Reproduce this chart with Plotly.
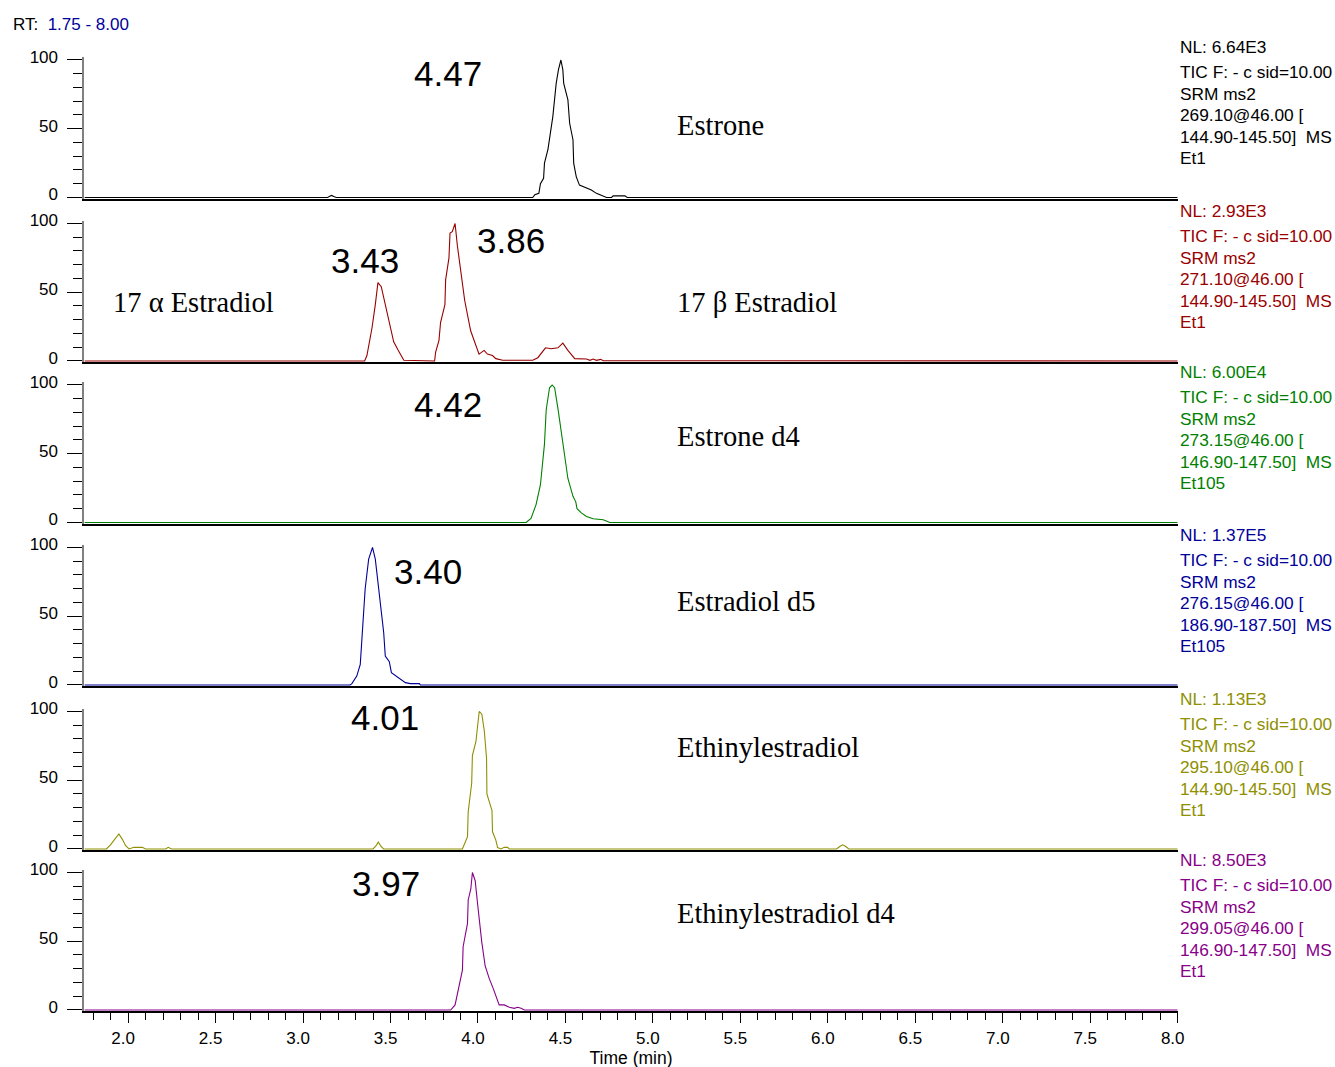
import plotly.graph_objects as go

# ---------------- data ----------------
estrone_t = [1.75, 3.14, 3.155, 3.164, 3.175, 3.19, 4.313, 4.325, 4.348, 4.357, 4.375, 4.38, 4.40, 4.428,
             4.447, 4.46, 4.474, 4.485, 4.49, 4.514, 4.524, 4.543, 4.547, 4.562, 4.58, 4.61, 4.648, 4.677,
             4.716, 4.735, 4.763, 4.773, 4.84, 4.853, 8.0]
estrone_i = [0, 0, 1.0, 1.5, 0.8, 0, 0, 2, 3, 10, 14, 25, 35, 59,
             83, 93, 100, 93, 83, 71, 54, 42, 25, 15, 9, 7.5, 5.5, 3,
             0.7, 0, 0, 1.2, 1.2, 0, 0]

estradiol_t = [1.75, 3.352, 3.365, 3.394, 3.413, 3.428, 3.447, 3.47, 3.493, 3.518, 3.543, 3.576,
               3.752, 3.758, 3.777, 3.786, 3.811, 3.815, 3.834, 3.84, 3.853, 3.869, 3.882, 3.901, 3.924,
               3.958, 3.984, 4.006, 4.035, 4.054, 4.083, 4.102, 4.141, 4.313, 4.342, 4.386, 4.418, 4.457,
               4.485, 4.514, 4.553, 4.62, 4.64, 4.658, 4.677, 4.702, 4.716, 8.0]
estradiol_i = [0, 0, 4, 24, 41, 57, 54, 41, 27, 14, 8, 0.5,
               0, 6.5, 15, 28, 41, 59, 75, 93, 94, 100, 84, 65, 44,
               22, 12.5, 5, 7.7, 5, 4, 1.7, 0.5, 0.5, 2.4, 9.6, 8.9, 9.6,
               13, 7.7, 1.7, 1.4, 0.5, 1.4, 0.5, 1.2, 0.2, 0]

estrone_d4_t = [1.75, 4.275, 4.303, 4.332, 4.357, 4.38, 4.39, 4.409, 4.424, 4.438, 4.457, 4.485, 4.514,
                4.543, 4.559, 4.566, 4.591, 4.62, 4.658, 4.716, 4.754, 8.0]
estrone_d4_i = [0, 0, 3, 13, 27.5, 57, 82, 98, 100, 98, 83, 57, 32,
                19, 15, 10, 7, 4.4, 2.7, 2, 0, 0]

estradiol_d5_t = [1.75, 3.269, 3.279, 3.307, 3.327, 3.336, 3.355, 3.375, 3.397, 3.413, 3.432, 3.461, 3.47,
                  3.493, 3.505, 3.527, 3.566, 3.585, 3.614, 3.665, 3.671, 8.0]
estradiol_d5_i = [0, 0, 1, 6.5, 15, 33, 70, 91.5, 100, 91.5, 70, 38, 21,
                  17, 9, 7, 4, 1.7, 1, 1, 0, 0]

ethinyl_t = [1.75, 1.876, 1.899, 1.928, 1.947, 1.967, 1.986, 2.005, 2.033, 2.081, 2.1, 2.215, 2.229, 2.248,
             3.40, 3.415, 3.43, 3.445, 3.46, 3.911, 3.94, 3.944, 3.964, 3.968, 3.988, 4.007, 4.022, 4.036,
             4.049, 4.051, 4.08, 4.083, 4.102, 4.112, 4.131, 4.15, 4.169, 4.179, 6.05, 6.07, 6.085, 6.10,
             6.12, 8.0]
ethinyl_i = [0, 0, 3, 8, 11, 7, 2.4, 0, 1.2, 1.2, 0, 0, 1.2, 0,
             0, 2, 5, 2, 0, 0, 9, 27, 48, 68, 78, 100, 98, 86,
             66, 40, 28, 12.5, 6.5, 1, 0, 1.2, 1.2, 0, 0, 2, 3, 2,
             0, 0]

ethinyl_d4_t = [1.75, 3.844, 3.869, 3.892, 3.911, 3.915, 3.94, 3.944, 3.959, 3.968, 3.984, 3.997, 4.022,
                4.041, 4.064, 4.089, 4.102, 4.121, 4.15, 4.179, 4.207, 4.227, 4.246, 4.265, 8.0]
ethinyl_d4_i = [0, 0, 3.7, 17, 29, 46, 63, 80, 88, 100, 94, 78, 49,
                32, 23, 15, 10, 3.7, 3.7, 2, 1.2, 2, 1.2, 0, 0]

series_t = [estrone_t, estradiol_t, estrone_d4_t, estradiol_d5_t, ethinyl_t, ethinyl_d4_t]
series_i = [estrone_i, estradiol_i, estrone_d4_i, estradiol_d5_i, ethinyl_i, ethinyl_d4_i]
colors = ["#000000", "#990000", "#008000", "#000099", "#8f8f00", "#880088"]

compound_names = [["Estrone"], ["17 \u03b1 Estradiol", "17 \u03b2 Estradiol"], ["Estrone d4"],
                  ["Estradiol d5"], ["Ethinylestradiol"], ["Ethinylestradiol d4"]]
peak_labels = [["4.47"], ["3.43", "3.86"], ["4.42"], ["3.40"], ["4.01"], ["3.97"]]

info_text = [
    ["NL: 6.64E3", "TIC F: - c sid=10.00", "SRM ms2", "269.10@46.00 [", "144.90-145.50] \u00a0MS", "Et1"],
    ["NL: 2.93E3", "TIC F: - c sid=10.00", "SRM ms2", "271.10@46.00 [", "144.90-145.50] \u00a0MS", "Et1"],
    ["NL: 6.00E4", "TIC F: - c sid=10.00", "SRM ms2", "273.15@46.00 [", "146.90-147.50] \u00a0MS", "Et105"],
    ["NL: 1.37E5", "TIC F: - c sid=10.00", "SRM ms2", "276.15@46.00 [", "186.90-187.50] \u00a0MS", "Et105"],
    ["NL: 1.13E3", "TIC F: - c sid=10.00", "SRM ms2", "295.10@46.00 [", "144.90-145.50] \u00a0MS", "Et1"],
    ["NL: 8.50E3", "TIC F: - c sid=10.00", "SRM ms2", "299.05@46.00 [", "146.90-147.50] \u00a0MS", "Et1"],
]

x_range = [1.75, 8.0]
y_ticks = [0, 50, 100]

# ---------------- layout geometry ----------------
# target positions measured on the picture, converted to layout pixels
AX, BX = 0.99, 0.0
AY, BY = 0.987, 5.5
W, H = 1349, 1076


def LX(t):
    return (t - BX) / AX


def LY(t):
    return (t - BY) / AY


X0_PX, X1_PX = 84, 1172
zero_px = [194, 357.5, 519, 681.5, 845.5, 1006.5]
SPAN = 137.5

peak_pos = [[(446, 70)], [(363, 257), (509, 237)], [(446, 401)], [(426, 568)], [(383, 714)], [(384, 880)]]
name_pos = [[(672, 122)], [(110, 299), (672, 299)], [(672, 433)], [(672, 598)], [(672, 744)], [(672, 910)]]
nl_y = [44, 208, 369, 532, 696, 857]
line_offsets = [0, 25, 46.5, 67.5, 89.5, 110.5]

SANS = "Liberation Sans, Arial, sans-serif"
SERIF = "Liberation Serif, Times New Roman, serif"


def px(t):
    return LX(t) / W


def py(t):
    return 1 - LY(t) / H


fig = go.Figure()
layout = dict(width=W, height=H, autosize=False, margin=dict(l=0, r=0, t=0, b=0, pad=0),
              paper_bgcolor="white", plot_bgcolor="white", showlegend=False)
annotations = []
ppu = SPAN / 100.0

for k in range(6):
    n = "" if k == 0 else str(k + 1)
    fig.add_trace(go.Scatter(x=series_t[k], y=series_i[k], mode="lines",
                             line=dict(color=colors[k], width=1.1),
                             xaxis="x" + n, yaxis="y" + n, hoverinfo="skip"))
    bottom = zero_px[k] + 1.5
    top = zero_px[k] - SPAN - 2.75
    layout["yaxis" + n] = dict(
        domain=[py(bottom), py(top)], range=[-1.5 / ppu, 102], anchor="x" + n,
        tickmode="array", tickvals=y_ticks, ticks="outside", ticklen=15, tickwidth=1.2,
        tickcolor="black", ticklabelstandoff=6, ticklabelshift=-3,
        minor=dict(tick0=0, dtick=10, ticks="outside", ticklen=9, tickwidth=1.2, tickcolor="black",
                   showgrid=False),
        showline=True, linecolor="#808080", linewidth=2, showgrid=False, zeroline=False,
        tickfont=dict(family=SANS, size=17, color="black"), fixedrange=True)
    xa = dict(domain=[px(X0_PX), px(X1_PX)], range=x_range, anchor="y" + n,
              showline=True, linecolor="black", linewidth=1.5, showgrid=False, zeroline=False,
              fixedrange=True)
    if k < 5:
        xa.update(ticks="", showticklabels=False, matches="x6")
    else:
        xa.update(tickmode="linear", tick0=0, dtick=0.5, tickformat=".1f", ticks="outside",
                  ticklen=10, tickwidth=1.2, tickcolor="black", ticklabelshift=-5,
                  minor=dict(tick0=0, dtick=0.1, ticks="outside", ticklen=7, tickwidth=1.2,
                             tickcolor="black", showgrid=False),
                  tickfont=dict(family=SANS, size=17, color="black"),
                  title=dict(text="Time (min)", font=dict(family=SANS, size=17.5, color="black"),
                             standoff=3))
    layout["xaxis" + n] = xa

    for lab, (cx, cy) in zip(peak_labels[k], peak_pos[k]):
        annotations.append(dict(text=lab, x=px(cx), y=py(cy), xref="paper", yref="paper",
                                xanchor="center", yanchor="middle", showarrow=False,
                                font=dict(family=SANS, size=35, color="black")))
    for nm, (lx, cy) in zip(compound_names[k], name_pos[k]):
        annotations.append(dict(text=nm, x=px(lx), y=py(cy), xref="paper", yref="paper",
                                xanchor="left", yanchor="middle", showarrow=False,
                                font=dict(family=SERIF, size=28.5, color="black")))
    for j, line in enumerate(info_text[k]):
        annotations.append(dict(text=line, x=px(1172), y=py(nl_y[k] + line_offsets[j]),
                                xref="paper", yref="paper", xanchor="left", yanchor="middle",
                                showarrow=False,
                                font=dict(family=SANS, size=17.3, color=colors[k])))

annotations.append(dict(text="RT:  <span style='color:#000099'>1.75 - 8.00</span>",
                        x=px(11), y=py(21), xref="paper", yref="paper", xanchor="left",
                        yanchor="middle", showarrow=False,
                        font=dict(family=SANS, size=17, color="black")))

layout["annotations"] = annotations
fig.update_layout(**layout)
fig.write_html("out.html", config={"responsive": False},
               post_script="document.body.style.margin='0';document.body.style.overflow='hidden';")
